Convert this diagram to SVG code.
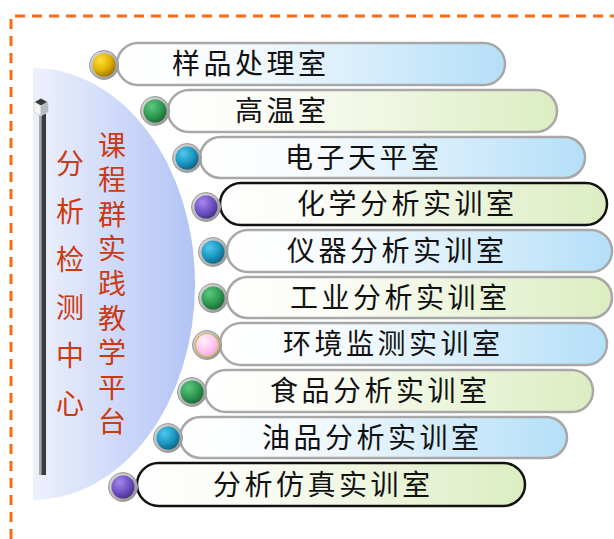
<svg xmlns="http://www.w3.org/2000/svg" width="614" height="539" viewBox="0 0 614 539">
<defs>
<style>
.lbl{font-family:"Noto Sans CJK SC","Noto Sans CJK TC",sans-serif;font-size:28px;letter-spacing:3.5px;fill:#111}
.red{font-family:"Noto Sans CJK SC","Noto Sans CJK TC",sans-serif;font-size:28px;fill:#cc3a12;writing-mode:vertical-rl}
.barB{fill:url(#gBlue);stroke:#a8a8a8;stroke-width:2.5}
.barG{fill:url(#gGreen);stroke:#a8a8a8;stroke-width:2.5}
.barK{fill:url(#gGreen);stroke:#111;stroke-width:2.5}
.ring{fill:url(#gRing);stroke:#9a9a9a;stroke-width:1}
</style>
<linearGradient id="gBlue" x1="0" y1="0" x2="1" y2="0">
<stop offset="0" stop-color="#ffffff"/><stop offset="0.3" stop-color="#f7fbfe"/><stop offset="1" stop-color="#b5dff8"/>
</linearGradient>
<linearGradient id="gGreen" x1="0" y1="0" x2="1" y2="0">
<stop offset="0" stop-color="#ffffff"/><stop offset="0.3" stop-color="#fafcf4"/><stop offset="1" stop-color="#dcedc2"/>
</linearGradient>
<linearGradient id="gRing" x1="0" y1="0" x2="1" y2="1">
<stop offset="0" stop-color="#e0e0e0"/><stop offset="1" stop-color="#8c8c8c"/>
</linearGradient>
<linearGradient id="gHalf" x1="0" y1="0" x2="1" y2="0">
<stop offset="0" stop-color="#eef1fc"/><stop offset="1" stop-color="#b1c3f6"/>
</linearGradient>
<radialGradient id="bYellow" cx="0.35" cy="0.3" r="0.75"><stop offset="0" stop-color="#ffe040"/><stop offset="0.6" stop-color="#e0b000"/><stop offset="1" stop-color="#a07000"/></radialGradient>
<radialGradient id="bGreen" cx="0.35" cy="0.3" r="0.75"><stop offset="0" stop-color="#5cc880"/><stop offset="0.6" stop-color="#2e9a52"/><stop offset="1" stop-color="#1c6a34"/></radialGradient>
<radialGradient id="bTeal" cx="0.35" cy="0.3" r="0.75"><stop offset="0" stop-color="#50c8ec"/><stop offset="0.6" stop-color="#1a96c2"/><stop offset="1" stop-color="#106282"/></radialGradient>
<radialGradient id="bPurple" cx="0.35" cy="0.3" r="0.75"><stop offset="0" stop-color="#a488ec"/><stop offset="0.6" stop-color="#7050c4"/><stop offset="1" stop-color="#48308a"/></radialGradient>
<radialGradient id="bPink" cx="0.35" cy="0.3" r="0.75"><stop offset="0" stop-color="#fff0fc"/><stop offset="0.6" stop-color="#ffc8f2"/><stop offset="1" stop-color="#f0a8e0"/></radialGradient>
</defs>
<rect width="614" height="539" fill="#ffffff"/>
<path d="M11,539 V16 H614" fill="none" stroke="#ff6a10" stroke-width="3" stroke-dasharray="10 7"/>
<g id="platform">
<path d="M33,68 A162,216 0 0 1 33,500 Z" fill="url(#gHalf)"/>
<rect x="39" y="114" width="2.5" height="361" fill="#a8a8a8"/>
<rect x="41.5" y="114" width="4.5" height="361" fill="#3c3c40"/>
<polygon points="34,102 41,98 48,102 41,106" fill="#3a3a3a" stroke="#e8e8e8" stroke-width="1"/>
<polygon points="34,102 41,106 41,116 34,112" fill="#f4f4f4" stroke="#c0c0c0" stroke-width="0.5"/>
<polygon points="41,106 48,102 48,112 41,116" fill="#b4bcc6" stroke="#c0c0c0" stroke-width="0.5"/>
<text class="red" x="70" y="149" style="letter-spacing:20px">分析检测中心</text>
<text class="red" x="112" y="131" style="letter-spacing:6.6px">课程群实践教学平台</text>
</g>
<g id="connectors"/>
<g id="n1"><rect class="barB" x="117" y="43" width="388" height="42" rx="21"/><circle class="ring" cx="104" cy="65" r="14.5"/><circle cx="104" cy="65" r="11.5" fill="url(#bYellow)"/><text class="lbl" x="172" y="74">样品处理室</text></g>
<g id="n2"><rect class="barG" x="168" y="90" width="389" height="42" rx="21"/><circle class="ring" cx="155" cy="111" r="14.5"/><circle cx="155" cy="111" r="11.5" fill="url(#bGreen)"/><text class="lbl" x="235" y="121">高温室</text></g>
<g id="n3"><rect class="barB" x="200" y="137" width="385" height="41" rx="20.5"/><circle class="ring" cx="187" cy="158" r="14.5"/><circle cx="187" cy="158" r="11.5" fill="url(#bTeal)"/><text class="lbl" x="285" y="168">电子天平室</text></g>
<g id="n4"><rect class="barK" x="220" y="183" width="387" height="42" rx="21"/><circle class="ring" cx="206" cy="207" r="14.5"/><circle cx="206" cy="207" r="11.5" fill="url(#bPurple)"/><text class="lbl" x="297" y="214">化学分析实训室</text></g>
<g id="n5"><rect class="barB" x="227" y="230" width="385" height="42" rx="21"/><circle class="ring" cx="213" cy="252" r="14.5"/><circle cx="213" cy="252" r="11.5" fill="url(#bTeal)"/><text class="lbl" x="287" y="261">仪器分析实训室</text></g>
<g id="n6"><rect class="barG" x="227" y="277" width="385" height="41" rx="20.5"/><circle class="ring" cx="213" cy="298" r="14.5"/><circle cx="213" cy="298" r="11.5" fill="url(#bGreen)"/><text class="lbl" x="290" y="308">工业分析实训室</text></g>
<g id="n7"><rect class="barB" x="220" y="323" width="387" height="42" rx="21"/><circle class="ring" cx="207" cy="345" r="14.5"/><circle cx="207" cy="345" r="11.5" fill="url(#bPink)" stroke="#d8b840" stroke-width="1.2"/><text class="lbl" x="283" y="354">环境监测实训室</text></g>
<g id="n8"><rect class="barG" x="205" y="370" width="388" height="42" rx="21"/><circle class="ring" cx="192" cy="392" r="14.5"/><circle cx="192" cy="392" r="11.5" fill="url(#bGreen)"/><text class="lbl" x="270" y="401">食品分析实训室</text></g>
<g id="n9"><rect class="barB" x="180" y="417" width="387" height="41" rx="20.5"/><circle class="ring" cx="168" cy="438" r="14.5"/><circle cx="168" cy="438" r="11.5" fill="url(#bTeal)"/><text class="lbl" x="262" y="448">油品分析实训室</text></g>
<g id="n10"><rect class="barK" x="137" y="463" width="388" height="43" rx="21.5"/><circle class="ring" cx="123" cy="487" r="14.5"/><circle cx="123" cy="487" r="11.5" fill="url(#bPurple)"/><text class="lbl" x="213" y="495">分析仿真实训室</text></g>
</svg>
